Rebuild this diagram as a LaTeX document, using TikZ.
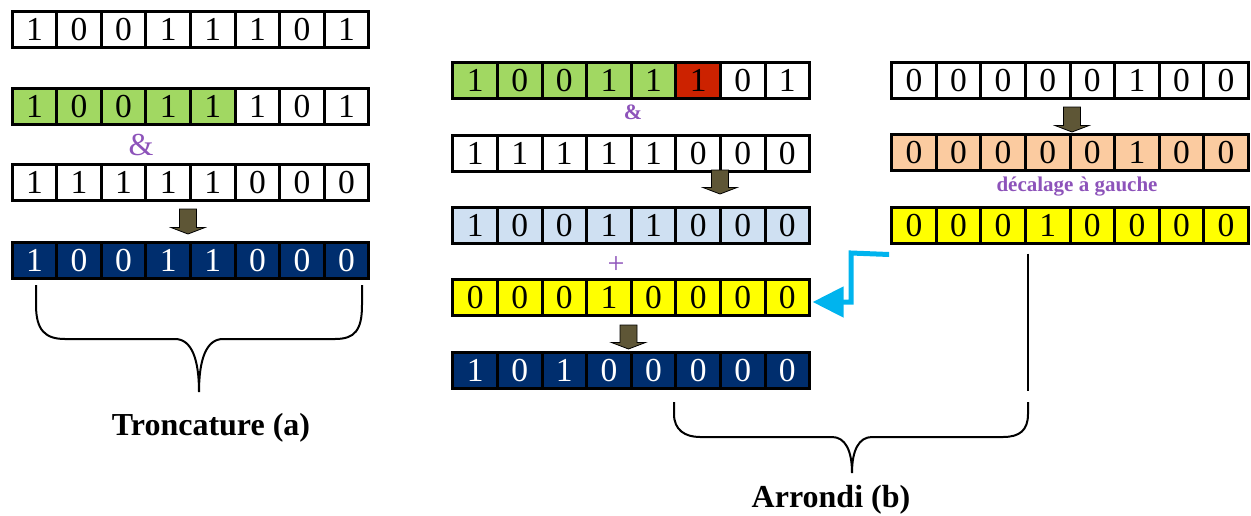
\documentclass[tikz,border=0pt]{standalone}
\usepackage{fontspec}
\setmainfont{Liberation Serif}
\usetikzlibrary{arrows.meta,calc}
\definecolor{grn}{HTML}{A1D862}
\definecolor{redc}{HTML}{CC2200}
\definecolor{lblue}{HTML}{CFE0F2}
\definecolor{peach}{HTML}{FBCBA0}
\definecolor{yel}{HTML}{FFFF00}
\definecolor{navy}{HTML}{002E6E}
\definecolor{olivec}{HTML}{5E5636}
\definecolor{cyanc}{HTML}{00B4EE}
\definecolor{purp}{HTML}{8D53BA}
\tikzset{
  cell/.style={draw=black, line width=3pt, minimum width=44.6pt, minimum height=36pt,
    inner sep=0pt, text height=22.5pt, text depth=0pt, font=\fontsize{33.5}{33.5}\selectfont},
  blk/.style={fill=olivec, draw=black, line width=0.8pt},
  bracepath/.style={draw=black, line width=2pt},
  cyanarr/.style={draw=cyanc, line width=5pt, -{Triangle[length=31pt,width=30pt]}},
  oplabel/.style={text=purp, inner sep=0pt},
  title/.style={font=\bfseries\fontsize{32}{32}\selectfont, anchor=base, inner sep=0pt}
}
\newcommand\bitrow[4]{%
  \foreach \bit/\fc/\tc [count=\i] in {#4} {%
    \node[cell, fill=\fc, text=\tc] (#1-\i) at ({#2+(\i-4.5)*44.6},#3) {\bit};}}
\newcommand\blockarrow[3]{%
  \path[blk] (#1-8.5,#2) -- (#1+8.5,#2) -- (#1+8.5,#3-6.5) -- (#1+17,#3-6.5)
    -- (#1,#3) -- (#1-17,#3-6.5) -- (#1-8.5,#3-6.5) -- cycle;}
\begin{document}
\begin{tikzpicture}[x=1pt,y=-1pt]
\useasboundingbox (0,0) rectangle (1251,515);
% ---------- (a) Troncature ----------
\bitrow{L1}{190.5}{29.5}{1/white/black,0/white/black,0/white/black,1/white/black,1/white/black,1/white/black,0/white/black,1/white/black}
\bitrow{L2}{190.5}{106.5}{1/grn/black,0/grn/black,0/grn/black,1/grn/black,1/grn/black,1/white/black,0/white/black,1/white/black}
\node[oplabel, font=\fontsize{32}{32}\selectfont] (ampA) at (141,145) {\&};
\bitrow{L3}{190.5}{182.5}{1/white/black,1/white/black,1/white/black,1/white/black,1/white/black,0/white/black,0/white/black,0/white/black}
\blockarrow{188}{209}{234}
\bitrow{L4}{190.5}{260}{1/navy/white,0/navy/white,0/navy/white,1/navy/white,1/navy/white,0/navy/white,0/navy/white,0/navy/white}
\path[bracepath] (36,285) -- (36,305) .. controls (36,330) and (45,339) .. (65,339) -- (175,339)
  .. controls (192,339) and (199,360) .. (199,392) .. controls (199,360) and (206,339) .. (223,339)
  -- (335,339) .. controls (355,339) and (362,330) .. (362,305) -- (362,285);
\node[title] (tA) at (211,435) {Troncature (a)};
% ---------- (b) Arrondi ----------
\bitrow{M1}{631.25}{80.5}{1/grn/black,0/grn/black,0/grn/black,1/grn/black,1/grn/black,1/redc/black,0/white/black,1/white/black}
\node[oplabel, font=\bfseries\fontsize{22}{22}\selectfont] (ampB) at (633,112) {\&};
\bitrow{M2}{631.25}{153}{1/white/black,1/white/black,1/white/black,1/white/black,1/white/black,0/white/black,0/white/black,0/white/black}
\blockarrow{720}{170}{194}
\bitrow{M3}{631.25}{225}{1/lblue/black,0/lblue/black,0/lblue/black,1/lblue/black,1/lblue/black,0/lblue/black,0/lblue/black,0/lblue/black}
\node[oplabel, font=\fontsize{30}{30}\selectfont] (plus) at (616,265) {+};
\bitrow{M4}{631.25}{297.5}{0/yel/black,0/yel/black,0/yel/black,1/yel/black,0/yel/black,0/yel/black,0/yel/black,0/yel/black}
\blockarrow{628.5}{325}{349}
\bitrow{M5}{631.25}{370}{1/navy/white,0/navy/white,1/navy/white,0/navy/white,0/navy/white,0/navy/white,0/navy/white,0/navy/white}
% right column
\bitrow{R1}{1070}{80.5}{0/white/black,0/white/black,0/white/black,0/white/black,0/white/black,1/white/black,0/white/black,0/white/black}
\blockarrow{1072}{107}{132}
\bitrow{R2}{1070}{152.5}{0/peach/black,0/peach/black,0/peach/black,0/peach/black,0/peach/black,1/peach/black,0/peach/black,0/peach/black}
\node[oplabel, font=\bfseries\fontsize{21}{21}\selectfont] (shift) at (1077,187) {décalage à gauche};
\bitrow{R3}{1070}{225}{0/yel/black,0/yel/black,0/yel/black,1/yel/black,0/yel/black,0/yel/black,0/yel/black,0/yel/black}
\coordinate (cstart) at ($(R3-1.south west)+(-1,10)$);
\coordinate (ctip) at ($(M4-8.east)+(1.5,4.5)$);
\draw[cyanarr] (cstart) -- (851,253) |- (ctip);
\coordinate (vtop) at ($(R3-3.south east)+(1.5,9)$);
\draw[line width=2pt] (vtop) -- ++(0,137);
\path[bracepath] (674,402) -- (674,414) .. controls (674,430) and (685,437) .. (700,437) -- (832,437)
  .. controls (845,437) and (852,450) .. (852,473) .. controls (852,450) and (859,437) .. (872,437)
  -- (1003,437) .. controls (1020,437) and (1028,430) .. (1028,414) -- (1028,402);
\node[title] (tB) at (831,507) {Arrondi (b)};
\end{tikzpicture}
\end{document}
